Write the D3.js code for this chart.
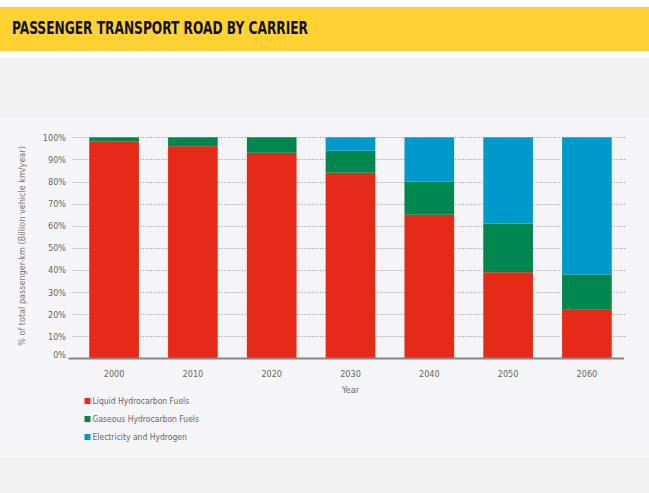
<!DOCTYPE html>
<html>
<head>
<meta charset="utf-8">
<script src="https://cdn.jsdelivr.net/npm/d3@7/dist/d3.min.js"></script>
<style>
  html, body { margin: 0; padding: 0; background: #ffffff; }
  svg { display: block; }
</style>
</head>
<body>
<svg id="chart" width="649" height="493"></svg>
<script>
// ---- Data ----
const years = ["2000", "2010", "2020", "2030", "2040", "2050", "2060"];
const liquid = [98, 96, 93, 84, 65, 39, 22];
const gaseous = [2, 4, 7, 10, 15, 22, 16];
const electricity = [0, 0, 0, 6, 20, 39, 62];
const seriesNames = ["Liquid Hydrocarbon Fuels", "Gaseous Hydrocarbon Fuels", "Electricity and Hydrogen"];
const yTicks = [0, 10, 20, 30, 40, 50, 60, 70, 80, 90, 100];
const title = "PASSENGER TRANSPORT ROAD BY CARRIER";
const yLabel = "% of total passenger-km (Billion vehicle km/year)";
const xLabel = "Year";

const colors = ["#E52A18", "#00864F", "#0099CB"];
const FONT = "'DejaVu Sans Condensed', 'Liberation Sans', sans-serif";

const svg = d3.select("#chart");

// ---- Background panels ----
svg.append("rect").attr("x", 0).attr("y", 0).attr("width", 649).attr("height", 493).attr("fill", "#ffffff");
svg.append("rect").attr("x", 0).attr("y", 7).attr("width", 649).attr("height", 44).attr("fill", "#FED233");
svg.append("rect").attr("x", 0).attr("y", 58).attr("width", 649).attr("height", 59).attr("fill", "#F1F1F1");
svg.append("rect").attr("x", 0).attr("y", 117).attr("width", 649).attr("height", 339).attr("fill", "#F5F5F7");
svg.append("rect").attr("x", 0).attr("y", 457).attr("width", 649).attr("height", 36).attr("fill", "#F1F1F1");

// ---- Title ----
svg.append("text")
  .attr("x", 12).attr("y", 34)
  .attr("font-family", FONT)
  .attr("font-weight", "bold")
  .attr("font-size", 17)
  .attr("fill", "#111")
  .attr("textLength", 296)
  .attr("lengthAdjust", "spacingAndGlyphs")
  .text(title);

// ---- Scales ----
const x = d3.scaleBand().domain(years).range([79.8, 621.2]).paddingInner(0.37).paddingOuter(0.12);
const y = d3.scaleLinear().domain([0, 100]).range([358.5, 137.3]);

// ---- Gridlines ----
svg.append("g").selectAll("line").data(yTicks.filter(d => d > 0)).join("line")
  .attr("x1", 73).attr("x2", 626)
  .attr("y1", d => Math.round(y(d)) + 0.5).attr("y2", d => Math.round(y(d)) + 0.5)
  .attr("stroke", "#9a9a9a").attr("stroke-width", 1)
  .attr("stroke-dasharray", "1,1.6");

// ---- Stack ----
const rows = years.map((yr, i) => ({ year: yr, a: liquid[i], b: gaseous[i], c: electricity[i] }));
const stack = d3.stack().keys(["a", "b", "c"]);
const layers = stack(rows);

svg.append("g").selectAll("g").data(layers).join("g")
  .attr("fill", (d, i) => colors[i])
  .selectAll("rect").data(d => d).join("rect")
  .attr("x", d => x(d.data.year))
  .attr("width", x.bandwidth())
  .attr("y", d => y(d[1]))
  .attr("height", d => Math.max(0, y(d[0]) - y(d[1])));

// ---- Axes ----
const yAxis = d3.axisLeft(y).tickValues(yTicks).tickFormat(d => d + "%").tickSize(0).tickPadding(0);
const gy = svg.append("g").attr("transform", "translate(66,0)").call(yAxis);
gy.select(".domain").remove();
gy.selectAll("text").attr("font-family", FONT).attr("font-size", 9).attr("fill", "#666");
gy.selectAll(".tick").filter(d => d === 0).select("text").attr("dy", "-0.1em");

const xAxis = d3.axisBottom(x).tickSize(0).tickPadding(12);
const gx = svg.append("g").attr("transform", "translate(0,358.5)").call(xAxis);
gx.select(".domain").remove();
gx.selectAll("text").attr("font-family", FONT).attr("font-size", 9).attr("fill", "#666");

svg.append("line").attr("x1", 68.5).attr("x2", 624).attr("y1", 358.5).attr("y2", 358.5)
  .attr("stroke", "#858585").attr("stroke-width", 2);

// ---- Axis labels ----
svg.append("text")
  .attr("x", x("2030") + x.bandwidth() / 2).attr("y", 393)
  .attr("text-anchor", "middle")
  .attr("font-family", FONT).attr("font-size", 9).attr("fill", "#666")
  .text(xLabel);

svg.append("text")
  .attr("transform", "translate(25,246) rotate(-90)")
  .attr("text-anchor", "middle")
  .attr("font-family", FONT).attr("font-size", 9).attr("fill", "#777")
  .text(yLabel);

// ---- Legend ----
const lg = svg.append("g").selectAll("g").data(seriesNames).join("g")
  .attr("transform", (d, i) => `translate(84.5,${401 + i * 18})`);
lg.append("rect").attr("x", 0).attr("y", -3).attr("width", 6).attr("height", 6)
  .attr("fill", (d, i) => colors[i]);
lg.append("text").attr("x", 8).attr("y", 0).attr("dy", "0.35em")
  .attr("font-family", FONT).attr("font-size", 8.5).attr("fill", "#666")
  .text(d => d);
</script>
</body>
</html>
